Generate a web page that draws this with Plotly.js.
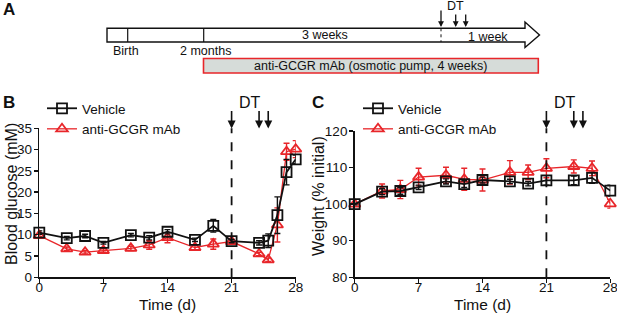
<!DOCTYPE html>
<html>
<head>
<meta charset="utf-8">
<script src="https://cdn.plot.ly/plotly-3.0.1.min.js"></script>
<style>html,body{margin:0;padding:0;background:#fff;}#chart{width:617px;height:313px;}</style>
</head>
<body>
<div id="chart"></div>
<script>
// ---- Data ----
var glucoseDays = [0, 3, 5, 7, 10, 12, 14, 17, 19, 21, 24, 25, 26, 27, 28];
var glucoseVehicle = [10.5, 9.2, 9.7, 8.1, 9.9, 9.3, 10.7, 8.8, 12.1, 8.5, 8.1, 8.6, 14.6, 24.7, 27.7];
var glucoseVehicleErr = [0.4, 0.4, 0.4, 0.3, 0.4, 0.5, 0.5, 0.4, 1.5, 0.4, 0.5, 1.6, 4.3, 3.0, 1.0];
var glucoseAnti = [9.8, 6.7, 5.9, 6.3, 6.8, 7.6, 9.3, 7.0, 7.8, 8.4, 5.5, 4.1, 12.3, 29.5, 30.1];
var glucoseAntiErr = [0.4, 0.4, 0.4, 0.4, 0.5, 1.0, 1.2, 0.6, 1.2, 0.4, 0.4, 0.4, 4.0, 2.0, 2.0];

var weightDays = [0, 3, 5, 7, 10, 12, 14, 17, 19, 21, 24, 26, 28];
var weightVehicle = [100, 103.4, 103.6, 104.6, 106.2, 105.5, 106.6, 106.2, 105.6, 106.5, 106.5, 107.2, 103.7];
var weightVehicleErr = [0.2, 0.8, 0.9, 0.6, 0.7, 0.9, 0.8, 0.6, 0.6, 1.3, 1.2, 1.5, 1.5];
var weightAnti = [100, 103.6, 104.0, 107.4, 107.9, 106.8, 106.6, 108.7, 108.7, 109.8, 110.3, 109.8, 100.1];
var weightAntiErr = [0.2, 1.9, 2.5, 2.4, 2.2, 3.0, 3.0, 3.2, 2.0, 2.6, 1.8, 2.0, 1.2];

var seriesNames = ['Vehicle', 'anti-GCGR mAb'];
var xTicks = [0, 7, 14, 21, 28];
var glucoseTicks = [0, 5, 10, 15, 20, 25, 30, 35];
var weightTicks = [80, 90, 100, 110, 120];
var dtDays = [21, 24, 25];
var xTitle = 'Time (d)';
var yTitles = ['Blood glucose (mM)', 'Weight (% initial)'];
var timelineLabels = ['Birth', '2 months', '3 weeks', '1 week'];
var pumpLabel = 'anti-GCGR mAb (osmotic pump, 4 weeks)';

// ---- Styling ----
var W = 617, H = 313;
var BLACK = '#111111', RED = '#e8262a';
var FONT = 'Liberation Sans, Arial, Helvetica, sans-serif';
function px(x) { return x / W; }
function py(y) { return 1 - y / H; }

function series(x, y, err, name, color, symbol, size, lw, xa, ya, legend) {
  return {
    x: x, y: y, name: name, type: 'scatter', mode: 'lines+markers',
    xaxis: xa, yaxis: ya, legend: legend,
    line: {color: color, width: lw},
    marker: {symbol: symbol, size: size, color: color, line: {color: color, width: 1.8}},
    error_y: {type: 'data', array: err, visible: true, color: color, thickness: 1.4, width: 3},
    cliponaxis: false
  };
}

var traces = [
  series(glucoseDays, glucoseAnti, glucoseAntiErr, seriesNames[1], RED, 'triangle-up-open', 10, 1.3, 'x', 'y', 'legend'),
  series(glucoseDays, glucoseVehicle, glucoseVehicleErr, seriesNames[0], BLACK, 'square-open', 10, 1.8, 'x', 'y', 'legend'),
  series(weightDays, weightAnti, weightAntiErr, seriesNames[1], RED, 'triangle-up-open', 10, 1.3, 'x2', 'y2', 'legend2'),
  series(weightDays, weightVehicle, weightVehicleErr, seriesNames[0], BLACK, 'square-open', 10, 1.8, 'x2', 'y2', 'legend2')
];

function axisBase(extra) {
  var a = {
    showgrid: false, zeroline: false, showline: true, linecolor: BLACK, linewidth: 1.6,
    ticks: 'outside', ticklen: 4, tickwidth: 1.5, tickcolor: BLACK, ticklabeloverflow: 'allow',
    tickfont: {family: FONT, size: 13.5, color: BLACK}, fixedrange: true
  };
  for (var k in extra) a[k] = extra[k];
  return a;
}

var shapes = [], annotations = [];

// Dashed DT line and arrows for panels B and C
['x', 'x2'].forEach(function (xr) {
  shapes.push({type: 'line', xref: xr, yref: 'paper', x0: dtDays[0], x1: dtDays[0],
    y0: py(277.3), y1: py(128.3), line: {color: BLACK, width: 1.8, dash: 'dash'}});
  dtDays.forEach(function (d) {
    annotations.push({xref: xr, yref: 'paper', x: d, y: py(128.5), text: '', showarrow: true,
      arrowhead: 2, arrowsize: 1, arrowwidth: 1.6, arrowcolor: BLACK, ax: 0, ay: -19});
  });
  annotations.push({xref: xr, yref: 'paper', x: (dtDays[1] + dtDays[2]) / 2 - 1.5, y: py(103), text: 'DT',
    showarrow: false, font: {family: FONT, size: 16, color: BLACK}, xanchor: 'center', yanchor: 'middle'});
  // x-axis title
  annotations.push({xref: xr + ' domain', yref: 'paper', x: 0.5, y: py(304), text: xTitle, showarrow: false,
    font: {family: FONT, size: 15.5, color: BLACK}, xanchor: 'center', yanchor: 'middle'});
});
// y-axis titles
[[yTitles[0], 12, 194], [yTitles[1], 318, 196]].forEach(function (t) {
  annotations.push({xref: 'paper', yref: 'paper', x: px(t[1]), y: py(t[2]), text: t[0], textangle: -90,
    showarrow: false, font: {family: FONT, size: 16, color: BLACK}, xanchor: 'center', yanchor: 'middle'});
});

// Panel letters
[['A', 9, 10], ['B', 9, 103], ['C', 318, 103]].forEach(function (l) {
  annotations.push({xref: 'paper', yref: 'paper', x: px(l[1]), y: py(l[2]), text: '<b>' + l[0] + '</b>',
    showarrow: false, font: {family: FONT, size: 17, color: BLACK}, xanchor: 'center', yanchor: 'middle'});
});

// ---- Panel A schematic (paper coords) ----
function P(x, y) { return px(x).toFixed(5) + ',' + py(y).toFixed(5); }
shapes.push({type: 'path', xref: 'paper', yref: 'paper',
  path: 'M' + P(107, 28.3) + ' L' + P(525, 28.3) + ' L' + P(525, 22) + ' L' + P(539.5, 35) + ' L' + P(525, 47.5) + ' L' + P(525, 42) + ' L' + P(107, 42) + ' Z',
  line: {color: BLACK, width: 1.4}, fillcolor: 'rgba(0,0,0,0)'});
shapes.push({type: 'line', xref: 'paper', yref: 'paper', x0: px(127.7), x1: px(127.7), y0: py(28.3), y1: py(42), line: {color: BLACK, width: 1.2}});
shapes.push({type: 'line', xref: 'paper', yref: 'paper', x0: px(203.7), x1: px(203.7), y0: py(28.3), y1: py(42), line: {color: BLACK, width: 1.2}});
shapes.push({type: 'line', xref: 'paper', yref: 'paper', x0: px(441), x1: px(441), y0: py(28.3), y1: py(42), line: {color: BLACK, width: 1, dash: 'dot'}});
shapes.push({type: 'rect', xref: 'paper', yref: 'paper', x0: px(203.5), x1: px(538.3), y0: py(58.5), y1: py(73), line: {color: RED, width: 1.6}, fillcolor: '#d6dcd9'});

var aText = [
  [timelineLabels[0], 126, 51], [timelineLabels[1], 205, 51], [timelineLabels[2], 325, 35.5], [timelineLabels[3], 488, 37],
  [pumpLabel, 370.5, 66]
];
aText.forEach(function (t) {
  annotations.push({xref: 'paper', yref: 'paper', x: px(t[1]), y: py(t[2]), text: t[0], showarrow: false,
    font: {family: FONT, size: 12.5, color: BLACK}, xanchor: 'center', yanchor: 'middle'});
});
[[441, 27, -18], [455.7, 27, -14], [465.7, 27, -14]].forEach(function (a) {
  annotations.push({xref: 'paper', yref: 'paper', x: px(a[0]), y: py(a[1]), text: '', showarrow: true,
    arrowhead: 2, arrowsize: 0.9, arrowwidth: 1.3, arrowcolor: BLACK, ax: 0, ay: a[2]});
});
annotations.push({xref: 'paper', yref: 'paper', x: px(455), y: py(6.5), text: 'DT', showarrow: false,
  font: {family: FONT, size: 12.5, color: BLACK}, xanchor: 'center', yanchor: 'middle'});

var layout = {
  width: W, height: H, margin: {l: 0, r: 0, t: 0, b: 0},
  paper_bgcolor: '#fff', plot_bgcolor: 'rgba(0,0,0,0)',
  font: {family: FONT, color: BLACK},
  xaxis: axisBase({domain: [px(39.3), px(295.7)], range: [0, 28], tickvals: xTicks, anchor: 'y', ticklabelstandoff: -7}),
  yaxis: axisBase({domain: [py(277.3), py(128.3)], range: [0, 35], tickvals: glucoseTicks, anchor: 'x', ticklabelstandoff: -1}),
  xaxis2: axisBase({domain: [px(354.7), px(610.3)], range: [0, 28], tickvals: xTicks, anchor: 'y2', ticklabelstandoff: -7}),
  yaxis2: axisBase({domain: [py(277.3), py(131)], range: [80, 120], tickvals: weightTicks, anchor: 'x2', ticklabelstandoff: -1}),
  legend: {x: px(42), y: py(93), xanchor: 'left', yanchor: 'top', traceorder: 'reversed',
    bgcolor: 'rgba(0,0,0,0)', font: {family: FONT, size: 13.5, color: BLACK}, itemwidth: 30, tracegroupgap: 0},
  legend2: {x: px(358), y: py(93), xanchor: 'left', yanchor: 'top', traceorder: 'reversed',
    bgcolor: 'rgba(0,0,0,0)', font: {family: FONT, size: 13.5, color: BLACK}, itemwidth: 30, tracegroupgap: 0},
  showlegend: true,
  shapes: shapes, annotations: annotations
};

Plotly.newPlot('chart', traces, layout, {displayModeBar: false, staticPlot: true});
</script>
</body>
</html>
